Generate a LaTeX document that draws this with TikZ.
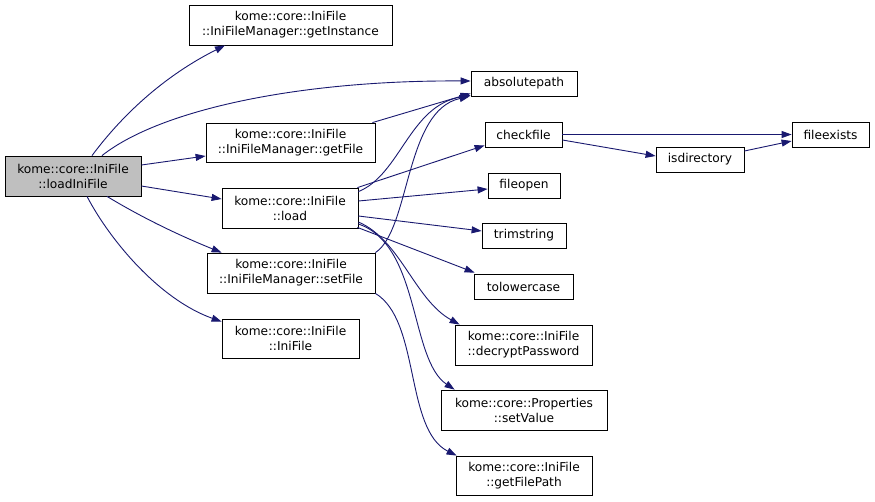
\documentclass[tikz,border=0pt]{standalone}
\usepackage{fontspec}
\setmainfont{DejaVu Sans}
\usetikzlibrary{arrows.meta,calc}
\definecolor{edgeblue}{HTML}{191970}
\definecolor{nodegray}{HTML}{BFBFBF}
\begin{document}
\begin{tikzpicture}[x=1pt,y=-1pt,
  fn/.style={draw=black,line width=0.8pt,fill=white,inner sep=0pt,align=center,
    font=\fontsize{12.2}{15}\selectfont},
  cur/.style={fn,fill=nodegray},
  call/.style={draw=edgeblue,line width=0.9pt,-{Triangle[length=10pt,width=7pt]}}]
\path[use as bounding box,fill=white] (0,0) rectangle (875,501);
% nodes
\node[cur,minimum width=136pt,minimum height=40pt] (lif) at (73,176) {kome::core::IniFile\\::loadIniFile};
\node[fn,minimum width=203pt,minimum height=40pt] (gi) at (290.5,25) {kome::core::IniFile\\::IniFileManager::getInstance};
\node[fn,minimum width=169pt,minimum height=39pt] (gf) at (290.5,142.5) {kome::core::IniFile\\::IniFileManager::getFile};
\node[fn,minimum width=136pt,minimum height=40pt] (ld) at (290,208) {kome::core::IniFile\\::load};
\node[fn,minimum width=168pt,minimum height=40pt] (sf) at (291,273) {kome::core::IniFile\\::IniFileManager::setFile};
\node[fn,minimum width=137pt,minimum height=39pt] (ini) at (290.5,338.5) {kome::core::IniFile\\::IniFile};
\node[fn,minimum width=106pt,minimum height=25pt] (ap) at (524,83.5) {absolutepath};
\node[fn,minimum width=77pt,minimum height=25pt] (cf) at (523.5,134.5) {checkfile};
\node[fn,minimum width=77pt,minimum height=25pt] (fe) at (830.5,134.5) {fileexists};
\node[fn,minimum width=88pt,minimum height=25pt] (id) at (700,159.5) {isdirectory};
\node[fn,minimum width=72pt,minimum height=25pt] (fo) at (524,185.5) {fileopen};
\node[fn,minimum width=84pt,minimum height=25pt] (ts) at (524,235.5) {trimstring};
\node[fn,minimum width=99pt,minimum height=25pt] (tl) at (523.5,286.5) {tolowercase};
\node[fn,minimum width=137pt,minimum height=40pt] (dp) at (523.5,345) {kome::core::IniFile\\::decryptPassword};
\node[fn,minimum width=166pt,minimum height=40pt] (sv) at (524,410) {kome::core::Properties\\::setValue};
\node[fn,minimum width=136pt,minimum height=39pt] (gp) at (524,475.5) {kome::core::IniFile\\::getFilePath};
% edges
\draw[call] ($(lif.north)+(19,0)$) .. controls +(38,-51) and +(-50,25) .. ($(gi.south)+(-65.5,0)$);
\draw[call] ($(lif.north)+(29,0)$) .. controls +(58,-46) and +(-171,-1) .. ($(ap.west)+(0,-2.5)$);
\draw[call] ($(lif.east)+(0,-11)$) -- ($(gf.west)+(0,13.5)$);
\draw[call] ($(lif.east)+(0,10)$) -- ($(ld.west)+(0,-9)$);
\draw[call] ($(lif.south)+(34,0)$) .. controls +(43,26) and +(-32,-13) .. ($(sf.north west)+(15,0)$);
\draw[call] ($(lif.south)+(14,0)$) .. controls +(23,44) and +(-62,-22) .. ($(ini.north west)+(0,3)$);
\draw[call] ($(gf.north east)+(-3,0)$) -- ($(ap.south west)+(0,-3)$);
\draw[call] ($(ld.north east)+(0,4)$) .. controls +(42,-17) and +(-61,10) .. ($(ap.south west)+(0,-1)$);
\draw[call] (sf.north east) .. controls +(35,-23) and +(-65,14) .. ($(ap.south west)+(-1,0)$);
\draw[call] ($(ld.north east)+(-1,0)$) -- ($(cf.south west)+(0,-2)$);
\draw[call] ($(ld.east)+(0,-7)$) -- ($(fo.west)+(0,3.5)$);
\draw[call] ($(ld.east)+(0,8)$) -- ($(ts.west)+(0,-4.5)$);
\draw[call] ($(ld.south east)+(-1,-1)$) -- ($(tl.north west)+(1,-1)$);
\draw[call] ($(ld.east)+(0,14)$) .. controls +(42,18) and +(-45,-25) .. ($(dp.north west)+(5,0)$);
\draw[call] ($(ld.east)+(0,16)$) .. controls +(62,21) and +(-45,-30) .. ($(sv.north west)+(14,0)$);
\draw[call] (sf.south east) .. controls +(45,27) and +(-52,-26) .. ($(gp.north west)+(1,0)$);
\draw[call] (cf.east) -- (fe.west);
\draw[call] ($(cf.east)+(0,5.5)$) -- ($(id.west)+(0,-3.5)$);
\draw[call] ($(id.east)+(0,-8.5)$) -- ($(fe.west)+(0,6.5)$);
\end{tikzpicture}
\end{document}
